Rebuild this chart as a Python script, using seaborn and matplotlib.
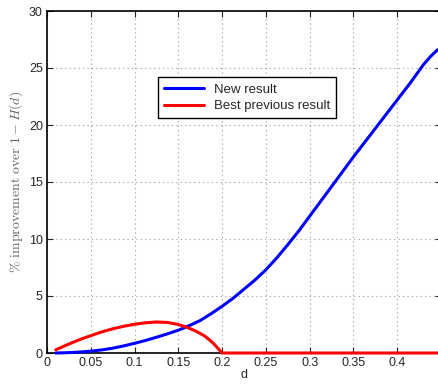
import seaborn as sns
import matplotlib
matplotlib.use("Agg")
import matplotlib.pyplot as plt
import pandas as pd

# values
d_new = [0.01, 0.02, 0.03, 0.04, 0.05, 0.0625, 0.075, 0.0875, 0.1, 0.1125, 0.125,
         0.1375, 0.15, 0.1625, 0.175, 0.1875, 0.2, 0.2125, 0.225, 0.2375, 0.25,
         0.2625, 0.275, 0.2875, 0.3, 0.325, 0.35, 0.375, 0.4, 0.415, 0.43, 0.438, 0.446]
new_result = [0.0, 0.02, 0.05, 0.1, 0.16, 0.27, 0.42, 0.62, 0.85, 1.1, 1.38,
              1.68, 2.0, 2.4, 2.85, 3.45, 4.1, 4.8, 5.6, 6.4, 7.3,
              8.35, 9.5, 10.7, 12.0, 14.6, 17.2, 19.7, 22.2, 23.7, 25.3, 26.0, 26.6]
d_prev = [0.01, 0.02, 0.03, 0.04, 0.05, 0.0625, 0.075, 0.0875, 0.1, 0.1125, 0.125,
          0.1375, 0.15, 0.16, 0.17, 0.18, 0.19, 0.2, 0.25, 0.3, 0.35, 0.4, 0.446]
prev_result = [0.28, 0.62, 0.95, 1.25, 1.52, 1.85, 2.12, 2.34, 2.52, 2.65, 2.72,
               2.68, 2.5, 2.25, 1.92, 1.5, 0.85, 0.0, 0.0, 0.0, 0.0, 0.0, 0.0]
x_ticks = [0, 0.05, 0.1, 0.15, 0.2, 0.25, 0.3, 0.35, 0.4]
y_ticks = [0, 5, 10, 15, 20, 25, 30]

sns.set_style("ticks")
plt.rcParams['font.family'] = ['Liberation Sans', 'DejaVu Sans']
plt.rcParams['mathtext.fontset'] = 'cm'

df = pd.concat([
    pd.DataFrame({"d": d_new, "val": new_result, "series": "New result"}),
    pd.DataFrame({"d": d_prev, "val": prev_result, "series": "Best previous result"}),
])

fig = plt.figure(figsize=(4.38, 3.84), dpi=100)
ax = fig.add_axes([47 / 438, 31 / 384, 394 / 438, 342 / 384])
sns.lineplot(data=df, x="d", y="val", hue="series", sort=False,
             palette={"New result": "#0000ff", "Best previous result": "#ff0000"},
             linewidth=2.2, ax=ax)
for ln in ax.get_lines():
    ln.set_clip_on(False)
    ln.set_zorder(5)

ax.set_xlim(0, 0.45)
ax.set_ylim(0, 30)
ax.set_xticks(x_ticks)
ax.set_xticklabels(["0", "0.05", "0.1", "0.15", "0.2", "0.25", "0.3", "0.35", "0.4"])
ax.set_yticks(y_ticks)
ax.grid(True, linestyle=(0, (1, 3)), color="#999999", linewidth=0.8)
ax.tick_params(direction="in", top=True, right=True, labelsize=9, length=4,
               width=0.8, pad=3)
for s in ax.spines.values():
    s.set_linewidth(1.2)
    s.set_color("black")

ax.set_xlabel("d", fontsize=9, labelpad=0)
ax.set_ylabel(r"$\%\ \mathrm{improvement\ over}\ 1-H(d)$", fontsize=10,
              color="#666666", labelpad=3)

leg = ax.legend(loc="upper left", bbox_to_anchor=(0.265, 0.825), fontsize=9.5,
                frameon=True, fancybox=False, framealpha=1, edgecolor="black",
                handlelength=3.0, borderpad=0.45, labelspacing=0.35)
leg.get_frame().set_linewidth(1.0)

fig.savefig("out.png", dpi=100)
